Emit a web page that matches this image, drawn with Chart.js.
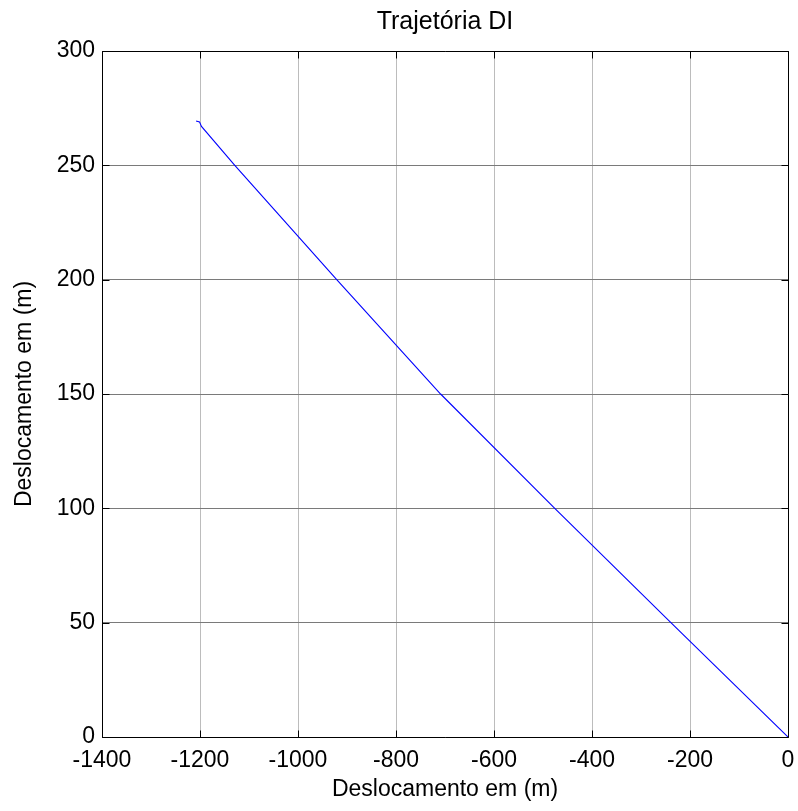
<!DOCTYPE html>
<html>
<head>
<meta charset="utf-8">
<script src="https://cdn.jsdelivr.net/npm/chart.js@4.4.1/dist/chart.umd.min.js"></script>
<style>
html,body{margin:0;padding:0;background:#fff;}
#wrap{width:798px;height:811px;position:relative;}
</style>
</head>
<body>
<div id="wrap"><canvas id="c" width="798" height="811"></canvas></div>
<script>
const chartTitle = "Trajetória DI";
const xTitle = "Deslocamento em (m)";
const yTitle = "Deslocamento em (m)";
const xValues = [-1208, -1201, -1197, -1129, -921, -709, -476, -239, 0];
const yValues = [269.4, 269.0, 267.0, 250, 200, 150, 100, 50, 0];
const xTicks = [-1400, -1200, -1000, -800, -600, -400, -200, 0];
const yTicks = [0, 50, 100, 150, 200, 250, 300];

const FONT = "'Liberation Sans', Arial, sans-serif";

const boxPlugin = {
  id: 'boxPlugin',
  afterDatasetsDraw(chart) {
    const {ctx, chartArea: a, scales} = chart;
    ctx.save();
    ctx.strokeStyle = '#000';
    ctx.lineWidth = 1;
    ctx.beginPath();
    const L = Math.round(a.left) + 0.5, R = Math.round(a.right) + 0.5;
    const T = Math.round(a.top) + 0.5, B = Math.round(a.bottom) + 0.5;
    ctx.rect(L, T, R - L, B - T);
    const tl = 7;
    xTicks.forEach(v => {
      const px = Math.round(scales.x.getPixelForValue(v)) + 0.5;
      ctx.moveTo(px, B); ctx.lineTo(px, B - tl);
      ctx.moveTo(px, T); ctx.lineTo(px, T + tl);
    });
    yTicks.forEach(v => {
      const py = Math.round(scales.y.getPixelForValue(v)) + 0.5;
      ctx.moveTo(L, py); ctx.lineTo(L + tl, py);
      ctx.moveTo(R, py); ctx.lineTo(R - tl, py);
    });
    ctx.stroke();
    ctx.restore();
  }
};

new Chart(document.getElementById('c'), {
  type: 'scatter',
  data: {
    datasets: [{
      data: xValues.map((x, i) => ({x: x, y: yValues[i]})),
      showLine: true,
      borderColor: '#0000ff',
      borderWidth: 1.1,
      pointRadius: 0,
      fill: false,
      tension: 0
    }]
  },
  options: {
    responsive: false,
    animation: false,
    devicePixelRatio: 1,
    layout: {padding: {left: 0, right: 10, top: 0, bottom: 0}},
    plugins: {
      legend: {display: false},
      tooltip: {enabled: false},
      title: {
        display: true,
        fullSize: false,
        text: chartTitle,
        color: '#000',
        font: {family: FONT, size: 25, weight: 'normal', lineHeight: 1.2},
        padding: {top: 7, bottom: 14}
      }
    },
    scales: {
      x: {
        type: 'linear',
        min: -1400, max: 0,
        afterBuildTicks(s) { s.ticks = xTicks.map(v => ({value: v})); },
        afterFit(s) { s.height = 74; s.paddingLeft = 0; s.paddingRight = 0; },
        ticks: {color: '#000', font: {family: FONT, size: 23}, padding: 10, maxRotation: 0, autoSkip: false,
                callback: v => String(v)},
        grid: {color: '#bcbcbc', lineWidth: 1, drawTicks: false},
        border: {display: false},
        title: {display: true, text: xTitle, color: '#000', font: {family: FONT, size: 23}, padding: {top: 0, bottom: 8}}
      },
      y: {
        type: 'linear',
        min: 0, max: 300,
        afterBuildTicks(s) { s.ticks = yTicks.map(v => ({value: v})); },
        afterFit(s) { s.width = 102; s.paddingTop = 0; s.paddingBottom = 0; },
        ticks: {color: '#000', font: {family: FONT, size: 23}, padding: 7, autoSkip: false,
                callback: v => String(v)},
        grid: {color: '#7a7a7a', lineWidth: 1, drawTicks: false},
        border: {display: false},
        title: {display: true, text: yTitle, color: '#000', font: {family: FONT, size: 23}, padding: {top: 11, bottom: 0}}
      }
    }
  },
  plugins: [boxPlugin]
});
</script>
</body>
</html>
